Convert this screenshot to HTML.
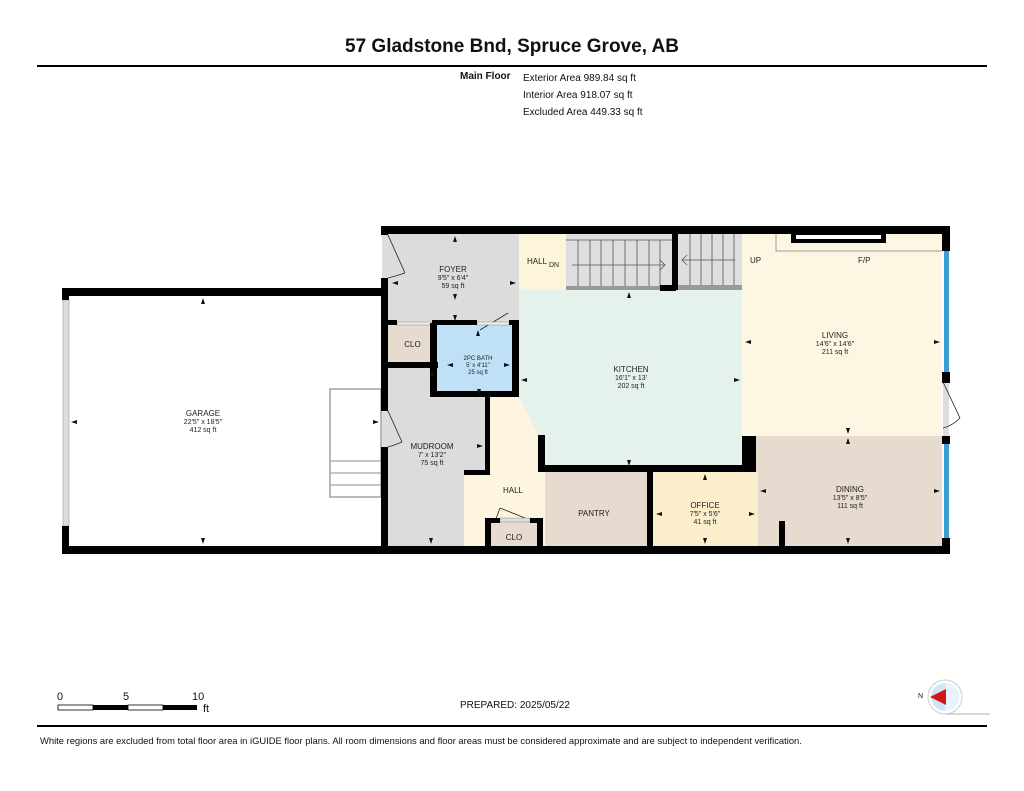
<!DOCTYPE html>
<html><head><meta charset="utf-8"><style>
*{margin:0;padding:0;box-sizing:border-box}
body{width:1024px;height:791px;background:#fff;position:relative;overflow:hidden;font-family:"Liberation Sans",sans-serif;color:#111}
div{position:absolute}
.b{background:#000}
.t{font-size:7px;text-align:center;line-height:8px;color:#222}
.r{font-size:8px}
</style></head><body>
<div style="left:0;top:36px;width:1024px;text-align:center;font-size:19px;font-weight:bold">57 Gladstone Bnd, Spruce Grove, AB</div>
<div style="left:37px;top:65px;width:950px;height:2px;background:#000"></div>
<div style="left:460px;top:71px;font-size:10px;font-weight:bold">Main Floor</div>
<div style="left:523px;top:70px;font-size:10px;line-height:17px">Exterior Area 989.84 sq ft<br>Interior Area 918.07 sq ft<br>Excluded Area 449.33 sq ft</div>

<svg style="position:absolute;left:0;top:0" width="1024" height="791">
<rect x="388" y="233" width="131" height="90" fill="#dcdcdc"/>
<rect x="519" y="233" width="47" height="57" fill="#fdf5da"/>
<rect x="566" y="233" width="106" height="55" fill="#dedede"/>
<rect x="678" y="233" width="64" height="57" fill="#dedede"/>
<rect x="566" y="286" width="106" height="4" fill="#999"/>
<rect x="678" y="285" width="64" height="6" fill="#999"/>
<rect x="742" y="233" width="200" height="203" fill="#fdf6e2"/>
<polygon points="519,290 742,290 742,465 545,465 545,435 537,435 519,398" fill="#e5f2ec"/>
<rect x="756" y="436" width="186" height="110" fill="#e6dbce"/>
<rect x="653" y="472" width="105" height="74" fill="#fbeecb"/>
<rect x="545" y="472" width="102" height="74" fill="#e6dbce"/>
<polygon points="490,397 519,397 538,435 545,435 545,546 464,546 464,475 490,475" fill="#fdf5e0"/>
<rect x="388" y="368" width="98" height="107" fill="#dcdcdc"/>
<rect x="388" y="475" width="76" height="71" fill="#dcdcdc"/>
<rect x="388" y="323" width="49" height="40" fill="#e6dbce"/>
<rect x="437" y="323" width="82" height="74" fill="#bfe0f6"/>
<rect x="490" y="521" width="48" height="25" fill="#e6dbce"/>
<g stroke="#555" stroke-width="0.8">
<line x1="578" y1="240" x2="578" y2="286"/><line x1="590" y1="240" x2="590" y2="286"/><line x1="601" y1="240" x2="601" y2="286"/><line x1="613" y1="240" x2="613" y2="286"/><line x1="625" y1="240" x2="625" y2="286"/><line x1="637" y1="240" x2="637" y2="286"/><line x1="649" y1="240" x2="649" y2="286"/><line x1="660" y1="240" x2="660" y2="286"/>
<line x1="566" y1="240" x2="672" y2="240"/>
<line x1="690" y1="233" x2="690" y2="285"/><line x1="701" y1="233" x2="701" y2="285"/><line x1="712" y1="233" x2="712" y2="285"/><line x1="723" y1="233" x2="723" y2="285"/><line x1="734" y1="233" x2="734" y2="285"/>
<line x1="572" y1="265" x2="665" y2="265"/><polyline points="660,260 665,265 660,270" fill="none"/>
<line x1="682" y1="260" x2="735" y2="260"/><polyline points="687,255 682,260 687,265" fill="none"/>
</g>
<polyline points="776,233 776,251 942,251" fill="none" stroke="#999" stroke-width="1"/>
<rect x="791" y="233" width="95" height="10" fill="#000"/>
<rect x="796" y="235" width="85" height="4" fill="#fff"/>
<rect x="330" y="389" width="51" height="108" fill="#fff" stroke="#888" stroke-width="1.2"/>
<g stroke="#666" stroke-width="0.8"><line x1="331" y1="461" x2="381" y2="461"/><line x1="331" y1="473" x2="381" y2="473"/><line x1="331" y1="485" x2="381" y2="485"/></g>
<rect x="63" y="300" width="6" height="226" fill="#ddd" stroke="#999" stroke-width="0.6"/>
<rect x="944" y="250" width="5" height="122" fill="#3a9fd0"/>
<rect x="944" y="443" width="5" height="95" fill="#3a9fd0"/>
<rect x="943" y="382" width="6" height="54" fill="#ddd"/>
<rect x="382" y="235" width="6" height="43" fill="#ddd"/>
<rect x="382" y="411" width="6" height="36" fill="#ddd"/>
<g stroke="#222" stroke-width="0.8" fill="none">
<line x1="388" y1="235" x2="405" y2="273"/><path d="M405,273 Q396,276 388,278"/>
<line x1="388" y1="411" x2="402" y2="442"/><path d="M402,442 Q395,445 388,447"/>
<line x1="943" y1="382" x2="960" y2="418"/><path d="M960,418 Q952,426 943,428"/>
<line x1="480" y1="330" x2="508" y2="313"/><line x1="500" y1="508" x2="530" y2="520"/><line x1="500" y1="508" x2="496" y2="519"/>
</g>
<rect x="397" y="322" width="35" height="3" fill="#eee" stroke="#888" stroke-width="0.5"/>
<rect x="477" y="322" width="32" height="3" fill="#eee" stroke="#888" stroke-width="0.5"/>
<rect x="500" y="518" width="30" height="4" fill="#ddd" stroke="#888" stroke-width="0.5"/>
</svg>

<div class="b" style="left:381px;top:226px;width:569px;height:8px"></div>
<div class="b" style="left:942px;top:226px;width:8px;height:25px"></div>
<div class="b" style="left:942px;top:372px;width:8px;height:11px"></div>
<div class="b" style="left:942px;top:436px;width:8px;height:8px"></div>
<div class="b" style="left:942px;top:538px;width:8px;height:15px"></div>
<div class="b" style="left:62px;top:546px;width:888px;height:8px"></div>
<div class="b" style="left:62px;top:288px;width:326px;height:8px"></div>
<div class="b" style="left:62px;top:288px;width:7px;height:12px"></div>
<div class="b" style="left:62px;top:526px;width:7px;height:27px"></div>
<div class="b" style="left:381px;top:226px;width:7px;height:9px"></div>
<div class="b" style="left:381px;top:278px;width:7px;height:133px"></div>
<div class="b" style="left:381px;top:447px;width:7px;height:106px"></div>
<div class="b" style="left:672px;top:233px;width:6px;height:57px"></div>
<div class="b" style="left:660px;top:285px;width:16px;height:6px"></div>
<div class="b" style="left:388px;top:320px;width:9px;height:5px"></div>
<div class="b" style="left:432px;top:320px;width:45px;height:5px"></div>
<div class="b" style="left:509px;top:320px;width:10px;height:5px"></div>
<div class="b" style="left:388px;top:362px;width:50px;height:6px"></div>
<div class="b" style="left:430px;top:323px;width:7px;height:74px"></div>
<div class="b" style="left:512px;top:323px;width:7px;height:74px"></div>
<div class="b" style="left:430px;top:391px;width:89px;height:6px"></div>
<div class="b" style="left:485px;top:397px;width:5px;height:78px"></div>
<div class="b" style="left:464px;top:470px;width:26px;height:5px"></div>
<div class="b" style="left:538px;top:435px;width:7px;height:37px"></div>
<div class="b" style="left:538px;top:465px;width:218px;height:7px"></div>
<div class="b" style="left:742px;top:436px;width:14px;height:36px"></div>
<div class="b" style="left:647px;top:472px;width:6px;height:74px"></div>
<div class="b" style="left:779px;top:521px;width:6px;height:25px"></div>
<div class="b" style="left:485px;top:518px;width:6px;height:28px"></div>
<div class="b" style="left:537px;top:518px;width:6px;height:28px"></div>
<div class="b" style="left:485px;top:518px;width:15px;height:5px"></div>
<div class="b" style="left:530px;top:518px;width:13px;height:5px"></div>

<div class="t" style="left:413px;top:266px;width:80px"><span class="r">FOYER</span><br>9'5" x 6'4"<br>59 sq ft</div>
<div class="t r" style="left:527px;top:258px">HALL</div>
<div class="t" style="left:549px;top:262px">DN</div>
<div class="t r" style="left:750px;top:257px">UP</div>
<div class="t r" style="left:858px;top:257px">F/P</div>
<div class="t" style="left:795px;top:332px;width:80px"><span class="r">LIVING</span><br>14'6" x 14'6"<br>211 sq ft</div>
<div class="t" style="left:591px;top:366px;width:80px"><span class="r">KITCHEN</span><br>16'1" x 13'<br>202 sq ft</div>
<div class="t" style="left:438px;top:356px;width:80px;font-size:6px;line-height:7px">2PC BATH<br>5' x 4'11"<br>25 sq ft</div>
<div class="t r" style="left:388px;top:341px;width:49px">CLO</div>
<div class="t" style="left:163px;top:410px;width:80px"><span class="r">GARAGE</span><br>22'5" x 18'5"<br>412 sq ft</div>
<div class="t" style="left:392px;top:443px;width:80px"><span class="r">MUDROOM</span><br>7' x 13'2"<br>75 sq ft</div>
<div class="t r" style="left:493px;top:487px;width:40px">HALL</div>
<div class="t r" style="left:574px;top:510px;width:40px">PANTRY</div>
<div class="t r" style="left:491px;top:534px;width:46px">CLO</div>
<div class="t" style="left:665px;top:502px;width:80px"><span class="r">OFFICE</span><br>7'5" x 5'6"<br>41 sq ft</div>
<div class="t" style="left:810px;top:486px;width:80px"><span class="r">DINING</span><br>13'5" x 8'5"<br>111 sq ft</div>

<svg style="position:absolute;left:0;top:0" width="1024" height="791" fill="#111">
<g>
<polygon points="455,236 453,242 457,242"/><polygon points="455,300 453,294 457,294"/>
<polygon points="392,283 398,281 398,285"/><polygon points="516,283 510,281 510,285"/>
<polygon points="629,292 627,298 631,298"/><polygon points="629,466 627,460 631,460"/>
<polygon points="521,380 527,378 527,382"/><polygon points="740,380 734,378 734,382"/>
<polygon points="745,342 751,340 751,344"/><polygon points="940,342 934,340 934,344"/>
<polygon points="848,434 846,428 850,428"/><polygon points="848,438 846,444 850,444"/>
<polygon points="760,491 766,489 766,493"/><polygon points="940,491 934,489 934,493"/>
<polygon points="848,544 846,538 850,538"/>
<polygon points="705,474 703,480 707,480"/><polygon points="705,544 703,538 707,538"/>
<polygon points="656,514 662,512 662,516"/><polygon points="755,514 749,512 749,516"/>
<polygon points="478,330 476,336 480,336"/><polygon points="479,395 477,389 481,389"/>
<polygon points="447,365 453,363 453,367"/><polygon points="510,365 504,363 504,367"/>
<polygon points="431,544 429,538 433,538"/><polygon points="432,370 430,376 434,376"/>
<polygon points="483,446 477,444 477,448"/>
<polygon points="203,298 201,304 205,304"/><polygon points="203,544 201,538 205,538"/>
<polygon points="71,422 77,420 77,424"/><polygon points="379,422 373,420 373,424"/>
<polygon points="455,321 453,315 457,315"/>
</g>
<rect x="58" y="705" width="35" height="5" fill="#fff" stroke="#000" stroke-width="0.8"/>
<rect x="93" y="705" width="35" height="5" fill="#000"/>
<rect x="128" y="705" width="35" height="5" fill="#fff" stroke="#000" stroke-width="0.8"/>
<rect x="163" y="705" width="34" height="5" fill="#000"/>
<circle cx="945" cy="697" r="17" fill="#fff" stroke="#ccc" stroke-width="1"/>
<circle cx="945" cy="697" r="14" fill="#cfe6f6"/>
<path d="M945,683 A14,14 0 0,1 945,711 Z" fill="#e8f3fb"/>
<polygon points="930,697 946,689 946,705" fill="#d01818"/>
<line x1="945" y1="714" x2="990" y2="714" stroke="#ccc" stroke-width="1.5"/>
</svg>
<div style="left:57px;top:691px;font-size:11px">0</div>
<div style="left:123px;top:691px;font-size:11px">5</div>
<div style="left:192px;top:691px;font-size:11px">10</div>
<div style="left:203px;top:703px;font-size:11px">ft</div>
<div style="left:460px;top:700px;font-size:10px">PREPARED: 2025/05/22</div>
<div style="left:918px;top:693px;font-size:7px">N</div>
<div style="left:37px;top:725px;width:950px;height:2px;background:#000"></div>
<div style="left:40px;top:735px;font-size:9.4px;white-space:nowrap">White regions are excluded from total floor area in iGUIDE floor plans. All room dimensions and floor areas must be considered approximate and are subject to independent verification.</div>
</body></html>
